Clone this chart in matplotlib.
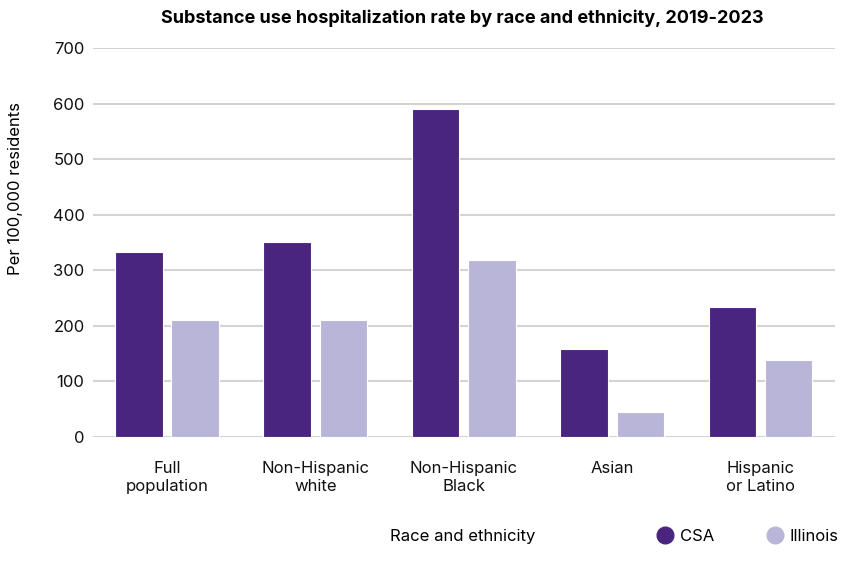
import numpy as np
import matplotlib.pyplot as plt
from matplotlib.lines import Line2D

plt.rcParams['font.family'] = ['Inter', 'DejaVu Sans']

# data
categories = ["Full\npopulation", "Non-Hispanic\nwhite", "Non-Hispanic\nBlack", "Asian", "Hispanic\nor Latino"]
csa = [333, 351, 591, 159, 234]
illinois = [210, 210, 319, 45, 139]

csa_color = "#4A2580"
il_color = "#B9B5D9"

fig = plt.figure(figsize=(8.44, 5.62), dpi=100)
ax = fig.add_axes([0.110, 0.2224, 0.879, 0.6922])

x = np.arange(len(categories))
w = 0.32
ax.bar(x - 0.19, csa, w, color=csa_color, edgecolor="white", linewidth=0.8, zorder=3)
ax.bar(x + 0.19, illinois, w, color=il_color, edgecolor="white", linewidth=0.8, zorder=3)

ax.set_xlim(-0.5, len(categories) - 0.5)
ax.set_ylim(0, 700)
ax.set_yticks(range(0, 701, 100))
ax.yaxis.grid(True, color="#D3D3D3", linewidth=1.5, zorder=0)
ax.set_axisbelow(True)
for s in ax.spines.values():
    s.set_visible(False)
ax.tick_params(axis="both", length=0, labelsize=12, colors="#111111")
ax.tick_params(axis="x", pad=17)
ax.tick_params(axis="y", pad=6)
ax.set_xticks(x)
ax.set_xticklabels(categories, linespacing=1.3)

fig.text(0.018, 0.665, "Per 100,000 residents", rotation=90, ha="center", va="center", fontsize=12)

fig.text(0.548, 0.968, "Substance use hospitalization rate by race and ethnicity, 2019-2023",
         ha="center", va="center", fontsize=13, fontweight="bold")

fig.text(0.462, 0.045, "Race and ethnicity", ha="left", va="center", fontsize=12)

handles = [Line2D([], [], marker="o", linestyle="", markersize=12, color=csa_color),
           Line2D([], [], marker="o", linestyle="", markersize=12, color=il_color)]
fig.legend(handles, ["CSA", "Illinois"], loc="center left", bbox_to_anchor=(0.758, 0.045),
           ncol=2, frameon=False, fontsize=12, handletextpad=0.3, columnspacing=3.05,
           handlelength=1.2)

fig.savefig("out.png", dpi=100)
